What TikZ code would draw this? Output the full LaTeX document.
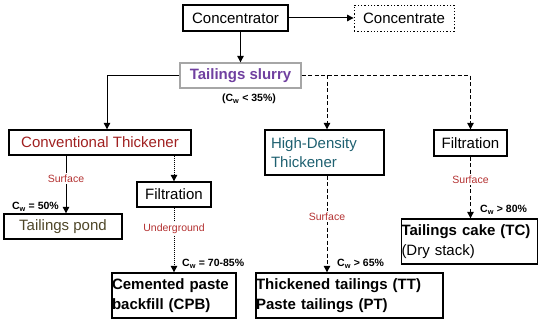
\documentclass[tikz,border=0pt]{standalone}
\usepackage{fontspec}
\setmainfont{Liberation Sans}
\usetikzlibrary{arrows.meta,positioning}

\definecolor{slurrypurple}{RGB}{112,64,160}
\definecolor{convred}{RGB}{160,32,32}
\definecolor{hdtteal}{RGB}{30,96,112}
\definecolor{labelred}{RGB}{180,50,50}
\definecolor{pondolive}{RGB}{78,70,40}

\begin{document}
\begin{tikzpicture}[x=1pt,y=-1pt]
\tikzset{
  procbox/.style={draw=black,line width=1.3pt,inner sep=0pt,font=\fontsize{15}{19}\selectfont},
  resultbox/.style={procbox,align=left,font=\fontsize{15}{19.5}\selectfont\bfseries},
  flowedge/.style={draw=black,line width=1pt},
  directed/.style={flowedge,-{Triangle[length=2.3mm,width=2.3mm]}},
  dashedge/.style={directed,dash pattern=on 4pt off 2.5pt},
  dotedge/.style={directed,dash pattern=on 1pt off 1pt},
  routelabel/.style={fill=white,inner sep=1.5pt,text=labelred,font=\fontsize{10.5}{12}\selectfont},
  cwlabel/.style={inner sep=0pt,font=\fontsize{10.5}{12}\selectfont\bfseries}
}
\useasboundingbox (0,0) rectangle (550,323);
\node[procbox,minimum width=105pt,minimum height=26pt] (n_conc) at (235.5,18) {Concentrator};
\node[procbox,dotted,line width=0.8pt,minimum width=100pt,minimum height=26pt] (n_concentrate) at (404,18) {Concentrate};
\node[procbox,draw=gray!70,minimum width=121pt,minimum height=25pt,text=slurrypurple,font=\fontsize{15}{19}\selectfont\bfseries] (n_slurry) at (240.5,75.5) {Tailings slurry};
\node[cwlabel] (n_cw35) at (249,99) {(C\textsubscript{w} < 35\%)};
\node[procbox,minimum width=182pt,minimum height=25pt,text=convred] (n_conv) at (100,142.5) {Conventional Thickener};
\node[procbox,minimum width=119pt,minimum height=45pt,text width=107pt,align=left,text=hdtteal] (n_hdt) at (324.5,152.5) {High-Density\\Thickener};
\node[procbox,minimum width=73pt,minimum height=26pt] (n_filt2) at (470.5,143) {Filtration};
\node[procbox,minimum width=74pt,minimum height=25pt] (n_filt1) at (174,194.5) {Filtration};
\node[procbox,minimum width=118pt,minimum height=25pt,text=pondolive] (n_pond) at (63,226.5) {Tailings pond};
\node[resultbox,minimum height=45pt,text width=124pt] (n_cpb) at (174,295.5) {Cemented paste\\backfill (CPB)};
\node[resultbox,minimum height=45pt,text width=187pt] (n_tt) at (349.5,295.5) {Thickened tailings (TT)\\Paste tailings (PT)};
\node[resultbox,minimum height=45pt,text width=136pt] (n_tc) at (469.5,241.5) {Tailings cake (TC)\\{\mdseries(Dry stack)}};
\draw[directed] (n_conc) -- (n_concentrate);
\draw[directed] (n_slurry |- n_conc.south) -- (n_slurry.north);
\draw[directed] (n_slurry.west) -| ([xshift=7pt]n_conv.north);
\draw[dashedge] (n_slurry.east) -| (n_filt2.north);
\draw[dashedge] ([xshift=2.5pt]n_slurry.east -| n_hdt) -- ([xshift=2.5pt]n_hdt.north);
\draw[directed] ([xshift=3pt]n_pond.north |- n_conv.south) -- node[routelabel,pos=0.4] (n_surf1) {Surface} ([xshift=3pt]n_pond.north);
\draw[dotedge] (n_conv.south -| n_filt1) -- (n_filt1.north);
\draw[dotedge] (n_filt1.south) -- node[routelabel,pos=0.32] (n_under) {Underground} (n_filt1.south |- n_cpb.north);
\draw[dashedge] ([xshift=2.5pt]n_hdt.south) -- node[routelabel,pos=0.42] (n_surf2) {Surface} ([xshift=2.5pt]n_hdt.south |- n_tt.north);
\draw[dashedge] (n_filt2.south) -- node[routelabel,pos=0.37] (n_surf3) {Surface} (n_filt2.south |- n_tc.north);
\node[cwlabel,anchor=east] (n_cw50) at (59,207) {C\textsubscript{w} = 50\%};
\node[cwlabel,anchor=west] (n_cw7085) at (182,264) {C\textsubscript{w} = 70-85\%};
\node[cwlabel,anchor=west] (n_cw65) at (337,264) {C\textsubscript{w} > 65\%};
\node[cwlabel,anchor=west] (n_cw80) at (480,210) {C\textsubscript{w} > 80\%};
\end{tikzpicture}
\end{document}
